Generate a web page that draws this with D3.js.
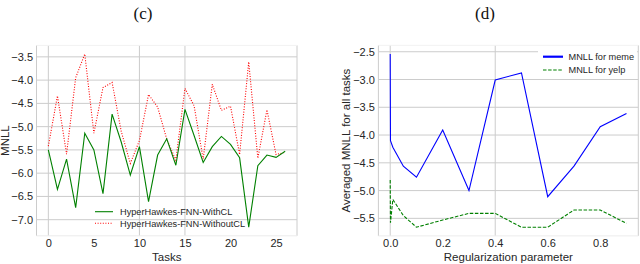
<!DOCTYPE html>
<html><head><meta charset="utf-8">
<script src="https://cdn.jsdelivr.net/npm/d3@7"></script>
<style>
html,body{margin:0;padding:0;background:#fff;}
svg{display:block;font-family:"Liberation Sans",Arial,sans-serif;}
</style></head><body>
<svg id="c" width="640" height="264"></svg>
<script>
// ---------- data: panel (c) ----------
const tasks = [0,1,2,3,4,5,6,7,8,9,10,11,12,13,14,15,16,17,18,19,20,21,22,23,24,25,26];
const withCL = [-5.50,-6.35,-5.70,-6.74,-5.14,-5.50,-6.44,-4.73,-5.33,-6.04,-5.43,-6.61,-5.61,-5.26,-5.83,-4.63,-5.19,-5.77,-5.43,-5.21,-5.38,-5.67,-7.16,-5.84,-5.61,-5.66,-5.53];
const withoutCL = [-5.42,-4.34,-5.59,-3.95,-3.44,-5.14,-4.16,-4.05,-5.10,-5.79,-5.30,-4.31,-4.58,-5.27,-5.72,-4.18,-4.55,-5.70,-4.09,-4.65,-4.56,-5.60,-3.61,-5.68,-4.64,-5.60,-5.55];
const cXTicks = [0,5,10,15,20,25];
const cYTicks = [-3.5,-4.0,-4.5,-5.0,-5.5,-6.0,-6.5,-7.0];
const cXGrid = [0,10,15];
// ---------- data: panel (d) ----------
const regParams = [0,0.001,0.01,0.05,0.1,0.2,0.3,0.4,0.5,0.6,0.7,0.8,0.9];
const memeMNLL = [-2.54,-4.10,-4.22,-4.56,-4.76,-3.91,-5.00,-3.01,-2.88,-5.11,-4.56,-3.85,-3.61];
const yelpMNLL = [-4.81,-5.58,-5.16,-5.45,-5.66,-5.53,-5.41,-5.41,-5.66,-5.66,-5.35,-5.35,-5.59];
const dXTicks = [0.0,0.2,0.4,0.6,0.8];
const dYTicks = [-2.5,-3.0,-3.5,-4.0,-4.5,-5.0,-5.5];
const dXGrid = [0.0,0.4];

const svg = d3.select("#c");
const txt = "#262626", grid = "#cccccc";

function padDomain(vals){
  const [a,b] = d3.extent(vals); const m = (b-a)*0.05; return [a-m,b+m];
}

function panel(o){
  const x = d3.scaleLinear().domain(padDomain(o.xs)).range([o.left,o.right]);
  const y = d3.scaleLinear().domain(padDomain(o.allY)).range([o.bottom,o.top]);
  const g = svg.append("g");
  // horizontal grid
  g.selectAll(".hg").data(o.yTicks).enter().append("line")
    .attr("x1",o.left).attr("x2",o.right)
    .attr("y1",d=>y(d)).attr("y2",d=>y(d))
    .attr("stroke",grid).attr("stroke-width",1);
  g.selectAll(".vg").data(o.xGrid).enter().append("line")
    .attr("x1",d=>x(d)).attr("x2",d=>x(d))
    .attr("y1",o.top).attr("y2",o.bottom)
    .attr("stroke",grid).attr("stroke-width",1);
  // frame
  g.append("line").attr("x1",o.left).attr("x2",o.left).attr("y1",o.top).attr("y2",o.bottom).attr("stroke",grid);
  g.append("line").attr("x1",o.right).attr("x2",o.right).attr("y1",o.top).attr("y2",o.bottom).attr("stroke",grid);
  g.append("line").attr("x1",o.left).attr("x2",o.right).attr("y1",o.bottom).attr("y2",o.bottom).attr("stroke","#ececec");
  g.append("line").attr("x1",o.left).attr("x2",o.right).attr("y1",o.top).attr("y2",o.top).attr("stroke","#f2f2f2");
  // axes (labels only)
  const yAx = d3.axisLeft(y).tickValues(o.yTicks).tickFormat(d3.format(".1f")).tickSize(0).tickPadding(3.5);
  const ya = g.append("g").attr("transform",`translate(${o.left},0)`).call(yAx);
  const xAx = d3.axisBottom(x).tickValues(o.xTicks).tickFormat(o.xFmt).tickSize(0).tickPadding(3.5);
  const xa = g.append("g").attr("transform",`translate(0,${o.bottom})`).call(xAx);
  [ya,xa].forEach(a=>{
    a.select(".domain").remove();
    a.selectAll("text").attr("fill",txt).attr("font-size",11).attr("font-family","Liberation Sans, Arial, sans-serif");
  });
  // axis labels
  g.append("text").attr("x",(o.left+o.right)/2).attr("y",261).attr("text-anchor","middle")
    .attr("font-size",11.5).attr("fill",txt).text(o.xLabel);
  g.append("text").attr("transform",`translate(${o.yLabelX},${(o.top+o.bottom)/2}) rotate(-90)`)
    .attr("text-anchor","middle").attr("font-size",11.5).attr("fill",txt).text(o.yLabel);
  // title
  g.append("text").attr("x",o.titleX).attr("y",19).attr("text-anchor","middle")
    .attr("font-family","Liberation Serif, Times New Roman, serif").attr("font-size",17).attr("fill","#111").text(o.title);
  // series
  o.series.forEach(s=>{
    const line = d3.line().x((d,i)=>x(o.xs[i])).y(d=>y(d));
    g.append("path").datum(s.values).attr("d",line).attr("fill","none")
      .attr("stroke",s.color).attr("stroke-width",s.width||1.1)
      .attr("stroke-dasharray",s.dash||null);
  });
  return {x,y,g};
}

const pc = panel({
  xs:tasks, allY:withCL.concat(withoutCL), left:36.5, right:297, top:45.4, bottom:235.8,
  xTicks:cXTicks, yTicks:cYTicks, xGrid:cXGrid, xFmt:d3.format("d"),
  xLabel:"Tasks", yLabel:"MNLL", yLabelX:9, title:"(c)", titleX:143,
  series:[
    {values:withoutCL, color:"#ff0000", dash:"1,1.6"},
    {values:withCL, color:"#008000"}
  ]
});
const pd = panel({
  xs:regParams, allY:memeMNLL.concat(yelpMNLL), left:378.4, right:638.3, top:45.3, bottom:235.9,
  xTicks:dXTicks, yTicks:dYTicks, xGrid:dXGrid, xFmt:d3.format(".1f"),
  xLabel:"Regularization parameter", yLabel:"Averaged MNLL for all tasks", yLabelX:350, title:"(d)", titleX:485,
  series:[
    {values:memeMNLL, color:"#0000ff"},
    {values:yelpMNLL, color:"#008000", dash:"3.5,1.6"}
  ]
});

// legends
function legend(g, x0, y0, dy, items, bg){
  if(bg) g.append("rect").attr("x",bg[0]).attr("y",bg[1]).attr("width",bg[2]).attr("height",bg[3]).attr("fill","#fff");
  items.forEach((it,i)=>{
    const yy = y0+i*dy;
    g.append("line").attr("x1",x0).attr("x2",x0+it.len).attr("y1",yy).attr("y2",yy)
      .attr("stroke",it.color).attr("stroke-width",it.width).attr("stroke-dasharray",it.dash||null);
    g.append("text").attr("x",x0+it.len+it.gap).attr("y",yy+3.3).attr("font-size",9.2).attr("fill",txt).text(it.label);
  });
}
legend(pc.g, 95, 211.7, 11.6, [
  {label:"HyperHawkes-FNN-WithCL", color:"#008000", width:1.1, len:18, gap:7},
  {label:"HyperHawkes-FNN-WithoutCL", color:"#ff0000", width:1.1, dash:"1,1.6", len:18, gap:7}
]);
legend(pd.g, 543, 56.7, 13.3, [
  {label:"MNLL for meme", color:"#0000ff", width:2.2, len:20, gap:5.5},
  {label:"MNLL for yelp", color:"#008000", width:1.1, dash:"3.5,1.6", len:20, gap:5.5}
], [538, 47, 99, 30]);
</script>
</body></html>
